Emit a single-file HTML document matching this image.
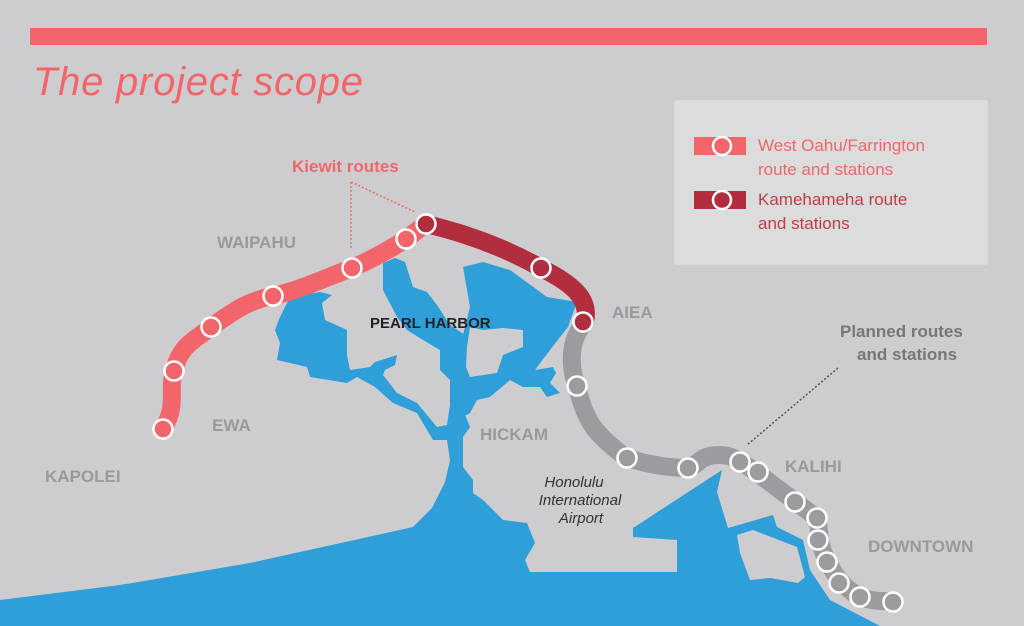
<!DOCTYPE html>
<html><head><meta charset="utf-8"><style>
html,body{margin:0;padding:0;background:#cdcdcf;}
svg{display:block;}
text{font-family:"Liberation Sans",sans-serif;}
</style></head><body>
<svg width="1024" height="626" viewBox="0 0 1024 626" xmlns="http://www.w3.org/2000/svg">
<rect width="1024" height="626" fill="#cdcdcf"/>
<rect x="30" y="28" width="957" height="17" fill="#f2666b"/>
<text x="33" y="95" font-size="40" font-style="italic" fill="#f2666b" textLength="330">The project scope</text>

<!-- legend -->
<rect x="674" y="100" width="314" height="165" rx="3" fill="#dcdcdd"/>
<rect x="694" y="137" width="52" height="18" fill="#f2666b"/>
<circle cx="722" cy="146" r="9" fill="#f2666b" stroke="#fff" stroke-width="2.5"/>
<text x="758" y="151" font-size="17" fill="#f2666b">West Oahu/Farrington</text>
<text x="758" y="175" font-size="17" fill="#f2666b">route and stations</text>
<rect x="694" y="191" width="52" height="18" fill="#b22d3e"/>
<circle cx="722" cy="200" r="9" fill="#b22d3e" stroke="#fff" stroke-width="2.5"/>
<text x="758" y="205" font-size="17" fill="#c23b47">Kamehameha route</text>
<text x="758" y="229" font-size="17" fill="#c23b47">and stations</text>

<!-- water -->
<g fill="#2e9fd9">
<path d="M0,600 L120,585 L250,563 L413,527 L530,572 L677,572 L677,540 L633,537 L633,528 L722,470 L717,492 L728,528 L773,515 L777,527 L803,540 L810,570 L830,600 L880,626 L0,626 Z"/>
<path d="M383,263 L395,258 L405,262 L413,287 L427,292 L437,305 L450,325 L465,335 L470,380 L463,417 L450,410 L450,380 L440,370 L440,350 L423,340 L407,330 L397,317 L383,290 Z"/>
<path d="M463,267 L483,262 L510,270 L547,297 L577,302 L568,327 L550,350 L535,370 L553,367 L556,373 L550,383 L560,393 L547,397 L540,387 L523,387 L510,380 L490,397 L477,400 L470,413 L463,417 L463,335 L470,307 Z"/>
<path d="M447,440 L433,440 L417,413 L393,403 L375,387 L357,377 L347,383 L310,377 L307,367 L277,360 L280,343 L275,330 L280,317 L290,297 L320,292 L332,295 L322,303 L325,320 L347,330 L347,355 L350,370 L370,367 L375,362 L397,355 L395,365 L385,370 L383,375 L397,393 L417,403 L437,427 L447,425 L450,405 L463,410 L470,427 L463,437 L463,467 L473,480 L473,493 L483,500 L503,520 L527,523 L535,543 L525,560 L530,572 L413,572 L413,527 L432,508 L445,482 L450,460 Z"/>
</g>
<g fill="#cdcdcf">
<path d="M470,327 L483,330 L503,328 L523,330 L523,347 L503,355 L497,373 L470,377 L466,367 L467,347 Z"/>
<path d="M737,535 L753,530 L797,547 L805,577 L798,583 L770,578 L750,580 L740,553 Z"/>
</g>

<!-- routes -->
<g fill="none" stroke-linecap="round" stroke-linejoin="round" stroke-width="18">
<path d="M585,322 C565,345 572,375 578,390 C585,420 595,435 627,458 C660,468 680,468 688,468 C700,465 698,455 720,455 C735,455 745,465 760,475 C780,490 800,505 817,518 C820,530 818,545 828,562 C835,575 840,585 860,597 C875,602 885,601 892,601" stroke="#9c9ca0"/>
<path d="M426,224 C460,232 500,245 541,268 C575,285 590,300 585,322" stroke="#b22d3e"/>
<path d="M163,429 C178,405 168,390 174,371 C180,345 195,340 211,327 C235,310 250,300 273,296 C300,290 325,278 352,268 C375,258 392,248 406,239 C414,233 420,228 426,224" stroke="#f2666b"/>
</g>
<g stroke="#fff" stroke-width="2.5">
<g fill="#f2666b">
<circle cx="163" cy="429" r="9.5"/><circle cx="174" cy="371" r="9.5"/><circle cx="211" cy="327" r="9.5"/><circle cx="273" cy="296" r="9.5"/><circle cx="352" cy="268" r="9.5"/><circle cx="406" cy="239" r="9.5"/>
</g>
<g fill="#b22d3e">
<circle cx="426" cy="224" r="9.5"/><circle cx="541" cy="268" r="9.5"/><circle cx="583" cy="322" r="9.5"/>
</g>
<g fill="#9c9ca0">
<circle cx="577" cy="386" r="9.5"/><circle cx="627" cy="458" r="9.5"/><circle cx="688" cy="468" r="9.5"/><circle cx="740" cy="462" r="9.5"/><circle cx="758" cy="472" r="9.5"/><circle cx="795" cy="502" r="9.5"/><circle cx="817" cy="518" r="9.5"/><circle cx="818" cy="540" r="9.5"/><circle cx="827" cy="562" r="9.5"/><circle cx="839" cy="583" r="9.5"/><circle cx="860" cy="597" r="9.5"/><circle cx="893" cy="602" r="9.5"/>
</g>
</g>

<!-- callouts -->
<text x="292" y="172" font-size="17" font-weight="bold" fill="#f2666b">Kiewit routes</text>
<path d="M351,182 L351,250 M351,182 L415,212" stroke="#f2666b" stroke-width="1.5" stroke-dasharray="2,2" fill="none"/>
<text x="840" y="337" font-size="17" font-weight="bold" fill="#77777a">Planned routes</text>
<text x="857" y="360" font-size="17" font-weight="bold" fill="#77777a">and stations</text>
<path d="M838,368 L747,445" stroke="#555" stroke-width="1.5" stroke-dasharray="2,2" fill="none"/>

<!-- place labels -->
<g font-size="17" font-weight="bold" fill="#9a9a9d">
<text x="217" y="248">WAIPAHU</text>
<text x="212" y="431">EWA</text>
<text x="45" y="482">KAPOLEI</text>
<text x="612" y="318">AIEA</text>
<text x="480" y="440">HICKAM</text>
<text x="785" y="472">KALIHI</text>
<text x="868" y="552">DOWNTOWN</text>
</g>
<text x="370" y="328" font-size="15" font-weight="bold" fill="#222">PEARL HARBOR</text>
<g font-size="15" font-style="italic" fill="#333" text-anchor="middle">
<text x="574" y="487">Honolulu</text>
<text x="580" y="505">International</text>
<text x="581" y="523">Airport</text>
</g>
</svg>
</body></html>
